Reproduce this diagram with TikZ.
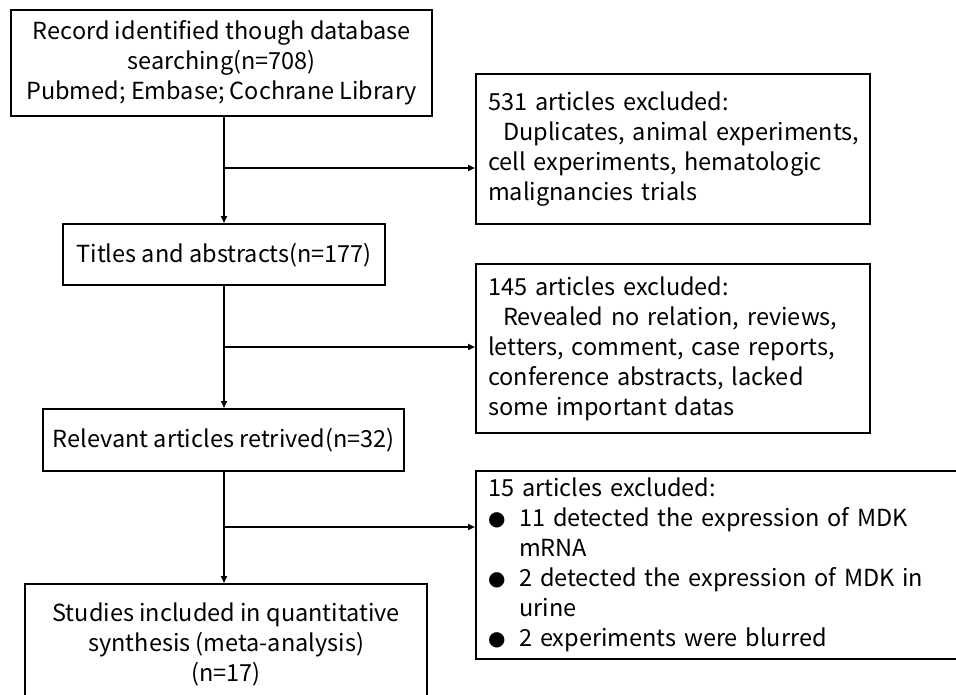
\documentclass[tikz,border=0pt]{standalone}
\usepackage{fontspec}
\setmainfont{Noto Sans CJK SC}
\newfontfamily\symfont{DejaVu Sans}
\usetikzlibrary{arrows.meta}
\hfuzz=50pt
\newcommand{\bul}{\makebox[31pt][l]{\raisebox{1pt}{\symfont\fontsize{20}{20}\selectfont ●}}}
\newcommand{\ind}{\hspace*{31pt}}
\begin{document}
\begin{tikzpicture}[x=1pt,y=-1pt,
  box/.style={draw,line width=2.4pt,anchor=north west,inner ysep=0pt,
    font=\fontsize{23.5}{30}\selectfont},
  cbox/.style={box,align=center,inner xsep=0pt},
  rbox/.style={box,align=left,inner xsep=12pt},
  arr/.style={line width=1.8pt,-{Triangle[length=7pt,width=6pt]}}]
\useasboundingbox (0,0) rectangle (956,694);
\clip (0,0) rectangle (956,694);

\node[cbox,minimum width=421pt,minimum height=106pt] (b1) at (10,9)
  {Record identified though database\\ searching(n=708)\\ Pubmed; Embase; Cochrane Library};
\node[rbox,text width=370pt,minimum height=150pt] (r1) at (475,73)
  {531 articles excluded:\\ \mbox{\hspace*{15pt}Duplicates, animal experiments,}\\ \mbox{cell experiments, hematologic}\\ \mbox{malignancies trials}};
\node[cbox,minimum width=322pt,minimum height=61pt] (t) at (62,223)
  {Titles and abstracts(n=177)};
\node[rbox,text width=370pt,minimum height=169pt] (r2) at (475,263)
  {145 articles excluded:\\ \mbox{\hspace*{15pt}Revealed no relation, reviews,}\\ \mbox{letters, comment, case reports,}\\ \mbox{conference abstracts, lacked}\\ \mbox{some important datas}};
\node[cbox,minimum width=361pt,minimum height=62pt] (rel) at (42,408)
  {Relevant articles retrived(n=32)};
\node[rbox,text width=500pt,minimum height=188pt] (r3) at (475,470)
  {15 articles excluded:\\ \bul 11 detected the expression of MDK\\ \ind mRNA\\ \bul 2 detected the expression of MDK in\\ \ind urine\\ \bul 2 experiments were blurred};
\node[cbox,minimum width=402pt,minimum height=120pt] (b5) at (24,583)
  {Studies included in quantitative\\ synthesis (meta-analysis)\\ (n=17)};

\coordinate (s1) at (224,168);
\coordinate (s2) at (224,347);
\coordinate (s3) at (224,527);
\draw[arr] (b1.south -| s1) -- (t.north -| s1);
\draw[arr] (s1) -- (r1.west |- s1);
\draw[arr] (t.south -| s2) -- (rel.north -| s2);
\draw[arr] (s2) -- (r2.west |- s2);
\draw[arr] (rel.south -| s3) -- (b5.north -| s3);
\draw[arr] (s3) -- (r3.west |- s3);
\end{tikzpicture}
\end{document}
